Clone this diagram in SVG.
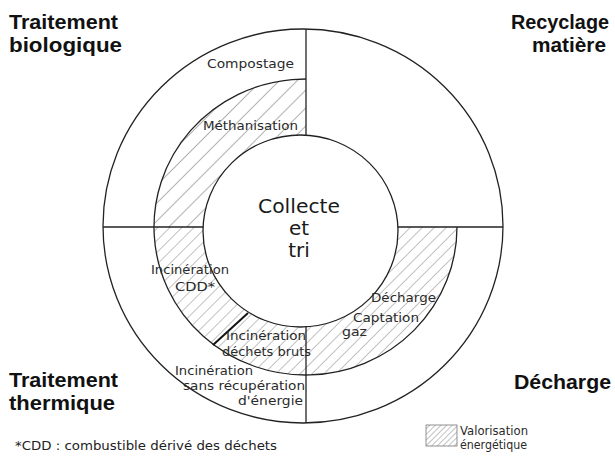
<svg xmlns="http://www.w3.org/2000/svg" width="615" height="458" viewBox="0 0 615 458">
<style>
.ln{fill:none;stroke:#222;stroke-width:1.3}
.hd{font-family:"Liberation Sans",Arial,sans-serif;font-weight:bold;font-size:21px;fill:#111}
.lb{font-family:"DejaVu Sans",sans-serif;font-size:13px;fill:#2a2a2a}
.ct{font-family:"DejaVu Sans",sans-serif;font-size:20px;fill:#1a1a1a;text-anchor:middle}
.ft{font-family:"DejaVu Sans",sans-serif;font-size:13px;fill:#222}
</style>
<defs>
<pattern id="hs" patternUnits="userSpaceOnUse" width="12.7" height="12.7" patternTransform="rotate(45)">
<line x1="0" y1="0" x2="0" y2="12.7" stroke="#555" stroke-width="0.9"/>
</pattern>
<pattern id="hd" patternUnits="userSpaceOnUse" width="8.5" height="8.5" patternTransform="rotate(45)">
<line x1="0" y1="0" x2="0" y2="8.5" stroke="#666" stroke-width="0.8"/>
</pattern>
<pattern id="hl" patternUnits="userSpaceOnUse" width="4" height="4" patternTransform="rotate(45)">
<line x1="0" y1="0" x2="0" y2="4" stroke="#666" stroke-width="0.8"/>
</pattern>
<clipPath id="tl"><rect x="100" y="20" width="206" height="207"/></clipPath>
<clipPath id="rest"><path d="M0,227 H306 V0 H615 V458 H0 Z"/></clipPath>
</defs>

<g id="hatching">
<path d="M457,227 A151.5,148 0 1 1 292,79.6 L306,79 L306,135.2 A97.5,96 0 1 0 398,227 Z" fill="url(#hs)" clip-path="url(#tl)"/>
<path d="M457,227 A151.5,148 0 1 1 292,79.6 L306,79 L306,135.2 A97.5,96 0 1 0 398,227 Z" fill="url(#hd)" clip-path="url(#rest)"/>
</g>

<g id="rings">
<ellipse class="ln" cx="303" cy="226" rx="200" ry="197"/>
<path class="ln" d="M457,227 A151.5,148 0 1 1 292,79.6 L306,79"/>
<ellipse class="ln" cx="300.5" cy="231" rx="97.5" ry="96"/>
</g>

<g id="connectors">
<line class="ln" x1="306" y1="29" x2="306" y2="135"/>
<line class="ln" x1="306" y1="326" x2="306" y2="423"/>
<line class="ln" x1="103" y1="227" x2="203" y2="227"/>
<line class="ln" x1="398" y1="227" x2="503" y2="227"/>
<line x1="213" y1="345" x2="248" y2="313" stroke="#111" stroke-width="2"/>
</g>

<g id="center">
<text class="ct" x="299" y="213" textLength="82" lengthAdjust="spacingAndGlyphs">Collecte</text>
<text class="ct" x="299" y="235">et</text>
<text class="ct" x="299" y="257">tri</text>
</g>

<g id="traitement-biologique">
<text class="hd" x="9" y="29" textLength="109" lengthAdjust="spacingAndGlyphs">Traitement</text>
<text class="hd" x="9" y="52" textLength="113" lengthAdjust="spacingAndGlyphs">biologique</text>
<text class="lb" x="207" y="68" textLength="87" lengthAdjust="spacingAndGlyphs">Compostage</text>
<text class="lb" x="203" y="130" textLength="95" lengthAdjust="spacingAndGlyphs">Méthanisation</text>
</g>

<g id="recyclage">
<text class="hd" x="511" y="29" textLength="98" lengthAdjust="spacingAndGlyphs">Recyclage</text>
<text class="hd" x="532" y="52" textLength="74" lengthAdjust="spacingAndGlyphs">matière</text>
</g>

<g id="traitement-thermique">
<text class="hd" x="9" y="387" textLength="109" lengthAdjust="spacingAndGlyphs">Traitement</text>
<text class="hd" x="9" y="410" textLength="106" lengthAdjust="spacingAndGlyphs">thermique</text>
<text class="lb" x="151" y="274" textLength="78" lengthAdjust="spacingAndGlyphs">Incinération</text>
<text class="lb" x="175" y="291" textLength="40" lengthAdjust="spacingAndGlyphs">CDD*</text>
<text class="lb" x="226" y="340" textLength="80" lengthAdjust="spacingAndGlyphs">Incinération</text>
<text class="lb" x="222" y="356" textLength="89" lengthAdjust="spacingAndGlyphs">déchets bruts</text>
<text class="lb" x="175" y="375" textLength="78" lengthAdjust="spacingAndGlyphs">Incinération</text>
<text class="lb" x="183" y="390" textLength="122" lengthAdjust="spacingAndGlyphs">sans récupération</text>
<text class="lb" x="238" y="405" textLength="65" lengthAdjust="spacingAndGlyphs">d'énergie</text>
</g>

<g id="decharge">
<text class="hd" x="514" y="389" textLength="97" lengthAdjust="spacingAndGlyphs">Décharge</text>
<text class="lb" x="371" y="302" textLength="65" lengthAdjust="spacingAndGlyphs">Décharge</text>
<text class="lb" x="353" y="322" textLength="66" lengthAdjust="spacingAndGlyphs">Captation</text>
<text class="lb" x="342" y="336" textLength="25" lengthAdjust="spacingAndGlyphs">gaz</text>
</g>

<g id="legend">
<rect x="426" y="425" width="31" height="21" fill="url(#hl)" stroke="#777" stroke-width="0.8"/>
<text class="lb" x="460" y="435" textLength="68" lengthAdjust="spacingAndGlyphs">Valorisation</text>
<text class="lb" x="460" y="449" textLength="67" lengthAdjust="spacingAndGlyphs">énergétique</text>
</g>

<g id="footnote">
<text class="ft" x="15" y="450" textLength="262" lengthAdjust="spacingAndGlyphs">*CDD : combustible dérivé des déchets</text>
</g>
</svg>
